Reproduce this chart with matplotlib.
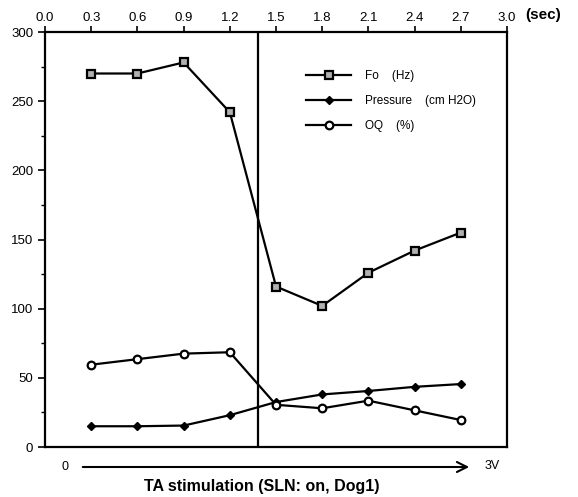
import matplotlib
matplotlib.use("Agg")
import matplotlib.pyplot as plt
from matplotlib.ticker import MultipleLocator

plt.rcParams['font.family'] = ['Liberation Sans', 'DejaVu Sans']

time = [0.3, 0.6, 0.9, 1.2, 1.5, 1.8, 2.1, 2.4, 2.7]
fo = [270, 270, 278, 242, 116, 102, 126, 142, 155]
pressure = [15, 15, 15.5, 23, 32.5, 38, 40.5, 43.5, 45.5]
oq = [59.5, 63.5, 67.5, 68.5, 30.5, 28, 33.5, 26.5, 19.5]
xticks = [0.0, 0.3, 0.6, 0.9, 1.2, 1.5, 1.8, 2.1, 2.4, 2.7, 3.0]
yticks = [0, 50, 100, 150, 200, 250, 300]
stim_time = 1.38

fig = plt.figure(figsize=(5.78, 4.97), dpi=100)
ax = fig.add_axes([0.0779, 0.1006, 0.7993, 0.835])

ax.plot(time, fo, color='black', lw=1.6, marker='s', ms=5.5, mfc='#b0b0b0',
        mec='black', mew=1.6, label='Fo    (Hz)')
ax.plot(time, pressure, color='black', lw=1.6, marker='D', ms=4.5, mfc='black',
        mec='black', label='Pressure    (cm H2O)')
ax.plot(time, oq, color='black', lw=1.6, marker='o', ms=5.5, mfc='white',
        mec='black', mew=1.6, label='OQ    (%)')
ax.axvline(stim_time, color='black', lw=1.6)

ax.set_xlim(0, 3.0)
ax.set_ylim(0, 300)
ax.xaxis.tick_top()
ax.set_xticks(xticks)
ax.set_xticklabels([f"{v:.1f}" for v in xticks])
ax.set_yticks(yticks)
ax.yaxis.set_minor_locator(MultipleLocator(25))
ax.tick_params(axis='x', which='major', direction='out', length=4, width=1.2,
               labelsize=9.5, pad=2)
ax.tick_params(axis='y', which='major', direction='out', length=5, width=1.2,
               labelsize=9.5)
ax.tick_params(axis='y', which='minor', direction='out', length=3, width=1.0)
for s in ax.spines.values():
    s.set_linewidth(1.6)

fig.text(525/578, 1-15/497, '(sec)', fontsize=11, fontweight='bold',
         ha='left', va='center')

ax.legend(loc='upper left', bbox_to_anchor=(0.555, 0.92), frameon=False,
          fontsize=8.5, handlelength=3.8, handletextpad=1.2, labelspacing=1.1,
          borderaxespad=0)

# stimulation arrow below the axes
fig.text(65/578, 1-467/497, '0', fontsize=9, ha='center', va='center')
fig.text(485/578, 1-466/497, '3V', fontsize=9, ha='left', va='center')
ax.annotate('', xy=(472/578, 1-467/497), xytext=(80/578, 1-467/497),
            xycoords='figure fraction', textcoords='figure fraction',
            arrowprops=dict(arrowstyle='->', lw=1.5, color='black',
                            mutation_scale=18))
fig.text(262/578, 1-486/497, 'TA stimulation (SLN: on, Dog1)', fontsize=11.5,
         fontweight='bold', ha='center', va='center')

fig.savefig('out.png', dpi=100)
